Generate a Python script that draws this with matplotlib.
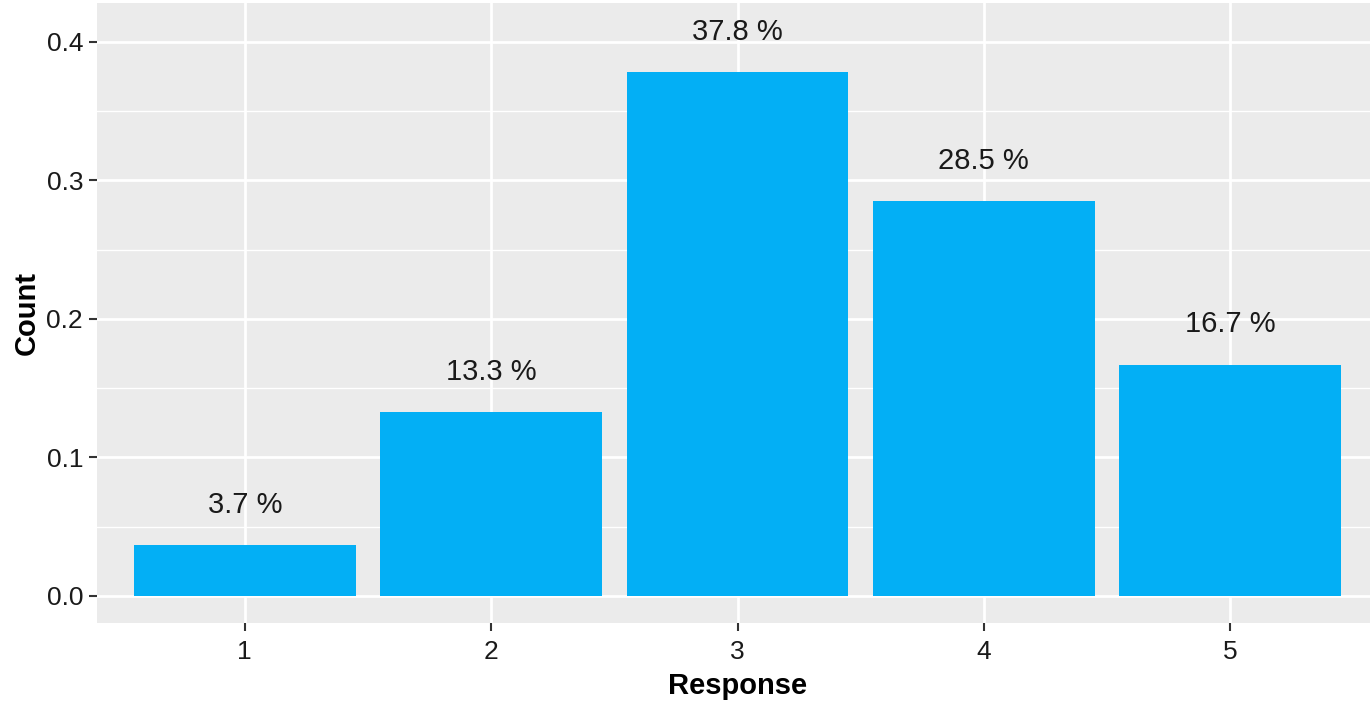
import matplotlib
matplotlib.use("Agg")
import matplotlib.pyplot as plt
from matplotlib.ticker import MultipleLocator

plt.rcParams['font.family'] = ['Liberation Sans', 'DejaVu Sans']

categories = ["1", "2", "3", "4", "5"]
values = [0.037, 0.133, 0.378, 0.285, 0.167]
labels = ["3.7 %", "13.3 %", "37.8 %", "28.5 %", "16.7 %"]

fig = plt.figure(figsize=(13.7, 7.01), dpi=100)
ax = fig.add_axes([97/1370, 78/701, (1378-97)/1370, 620/701])
ax.set_facecolor('#EBEBEB')

x = list(range(1, len(categories) + 1))
ax.bar(x, values, width=0.9, color='#03AFF5', zorder=3)
for xi, v, lab in zip(x, values, labels):
    ax.text(xi, v + 0.029, lab, ha='center', va='center', fontsize=21, color='#1a1a1a', zorder=4)

ax.set_xlim(0.4, 5.6)
ax.set_xticks(x)
ax.set_xticklabels(categories)
ax.yaxis.set_minor_locator(MultipleLocator(0.05))
ax.set_yticks([0.0, 0.1, 0.2, 0.3, 0.4])
ax.set_yticklabels(["0.0", "0.1", "0.2", "0.3", "0.4"])
ax.set_ylim(-0.0195, 0.428)

ax.grid(which='major', color='white', linewidth=2.0, zorder=0)
ax.grid(which='minor', axis='y', color='white', linewidth=1.0, zorder=0)
ax.set_axisbelow(True)
for s in ax.spines.values():
    s.set_visible(False)
ax.tick_params(axis='both', which='major', length=6, width=1.5, color='#333333',
               labelsize=19, labelcolor='#1a1a1a', pad=4)
ax.tick_params(axis='x', which='major', pad=6)
ax.tick_params(axis='both', which='minor', length=0)

ax.set_xlabel('Response', fontsize=21, fontweight='bold', labelpad=6)
ax.set_ylabel('Count', fontsize=21, fontweight='bold', labelpad=4)

fig.savefig('out.png', dpi=100)
